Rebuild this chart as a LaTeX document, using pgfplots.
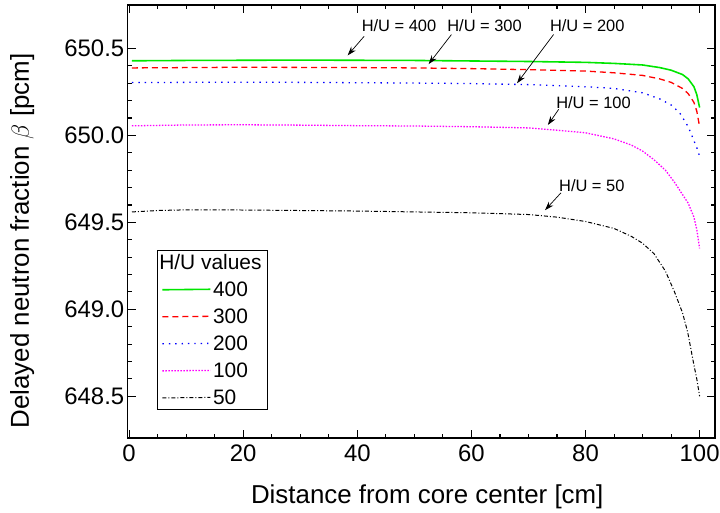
\documentclass[border=0pt]{standalone}
\usepackage{pgfplots}
\pgfplotsset{compat=1.18}
\usepackage{pgfplotstable}
\usepackage{fontspec}
\setmainfont{Liberation Sans}
\usetikzlibrary{arrows.meta}
\definecolor{cgreen}{RGB}{0,230,0}
\definecolor{cred}{RGB}{255,0,0}
\definecolor{cblue}{RGB}{0,0,255}
\definecolor{cmag}{RGB}{255,0,255}

\pgfplotstableread{
x y
0.5 650.429
10 650.431
20 650.432
30 650.433
40 650.432
50 650.431
60 650.428
70 650.425
80 650.420
85 650.414
90 650.405
93 650.390
95 650.375
97 650.350
98 650.325
99 650.280
99.5 650.235
100 650.160
}\tfour

\pgfplotstableread{
x y
0.5 650.388
10 650.390
20 650.392
30 650.391
40 650.390
50 650.388
60 650.384
70 650.378
80 650.370
85 650.360
90 650.345
93 650.325
95 650.305
97 650.270
98 650.240
99 650.190
99.5 650.140
100 650.050
}\tthree

\pgfplotstableread{
x y
0.5 650.304
10 650.305
20 650.306
30 650.305
40 650.303
50 650.301
60 650.298
70 650.292
80 650.280
85 650.270
90 650.245
93 650.210
95 650.175
96.5 650.130
98 650.050
99 649.970
99.5 649.930
100 649.880
}\ttwo

\pgfplotstableread{
x y
0.5 650.055
10 650.060
20 650.061
30 650.059
40 650.056
50 650.054
60 650.050
70 650.043
75 650.030
80 650.015
85 649.980
88 649.945
90 649.910
92 649.860
94 649.800
95.6 649.730
97 649.660
98 649.610
99 649.530
99.5 649.460
100 649.350
}\tone

\pgfplotstableread{
x y
0.5 649.560
5 649.568
10 649.572
20 649.571
30 649.568
40 649.565
50 649.560
60 649.555
70 649.545
75 649.530
80 649.505
85 649.465
88 649.420
90 649.380
92 649.320
94 649.220
95.6 649.100
97 648.980
97.9 648.870
99 648.680
99.5 648.600
100 648.500
}\tfifty

\begin{document}
\begin{tikzpicture}
\begin{axis}[
  scale only axis,
  width=590pt, height=435pt,
  xmin=-0.25, xmax=102.7,
  ymin=648.26, ymax=650.75,
  xtick={0,20,...,100},
  minor x tick num=3,
  ytick={648.5,649.0,649.5,650.0,650.5},
  minor y tick num=4,
  yticklabel style={/pgf/number format/.cd,fixed,precision=1,zerofill},
  /pgf/number format/assume math mode=true,
  tick label style={font=\fontsize{24}{28}\selectfont},
  xticklabel style={yshift=-3pt},
  label style={font=\fontsize{26}{31}\selectfont},
  xlabel={Distance from core center [cm]},
  ylabel={Delayed neutron fraction $\beta$ [pcm]},
  xlabel style={at={(axis description cs:0.51,-0.135)}, anchor=center},
  ylabel style={at={(axis description cs:-0.1797,0.455)}, anchor=center},
  major tick length=8pt,
  minor tick length=4.5pt,
  axis line style={line width=1.4pt},
  every tick/.style={black, line width=1.1pt},
  tick align=inside,
  legend style={at={(axis description cs:0.0504,0.0644)}, anchor=south west,
    font=\fontsize{21}{25}\selectfont, line width=0.8pt,
    cells={anchor=west}, row sep=7pt, inner xsep=4pt, inner ysep=2pt},
  legend image code/.code={\draw[mark repeat=2,mark phase=2,#1] plot coordinates {(0pt,-0.25pt) (24pt,0pt) (48pt,0.25pt)};},
]
\addlegendimage{empty legend}
\addlegendentry{\hspace{-54pt}H/U values}
\addplot[cgreen, line width=1.6pt] table {\tfour};
\addlegendentry{400}
\addplot[cred, line width=1.3pt, dash pattern=on 6pt off 4pt] table {\tthree};
\addlegendentry{300}
\addplot[cblue, line width=1.3pt, dash pattern=on 1.4pt off 5pt] table {\ttwo};
\addlegendentry{200}
\addplot[cmag, line width=1.3pt, dash pattern=on 1.5pt off 1.5pt] table {\tone};
\addlegendentry{100}
\addplot[black, line width=1pt, dash pattern=on 4pt off 2pt on 1pt off 2pt] table {\tfifty};
\addlegendentry{50}

\begin{scope}[every node/.style={font=\fontsize{16.5}{20}\selectfont}]
\node at (axis cs:47.3,650.63) {H/U = 400};
\node at (axis cs:62.3,650.63) {H/U = 300};
\node at (axis cs:80.3,650.63) {H/U = 200};
\node at (axis cs:81.4,650.19) {H/U = 100};
\node at (axis cs:81.1,649.71) {H/U = 50};
\end{scope}
\begin{scope}[line width=0.7pt, -{Stealth[length=9pt,width=6pt]}]
\draw (axis cs:41.2,650.57) -- (axis cs:38.3,650.46);
\draw (axis cs:56.5,650.58) -- (axis cs:52.5,650.41);
\draw (axis cs:74.4,650.58) -- (axis cs:68.0,650.30);
\draw (axis cs:75.3,650.15) -- (axis cs:73.4,650.06);
\draw (axis cs:75.7,649.67) -- (axis cs:72.9,649.57);
\end{scope}
\end{axis}
\pgfresetboundingbox
\path[use as bounding box] ([shift={(-128.3pt,-75pt)}]current axis.south west) rectangle ([shift={(5pt,5pt)}]current axis.north east);
\end{tikzpicture}
\end{document}
